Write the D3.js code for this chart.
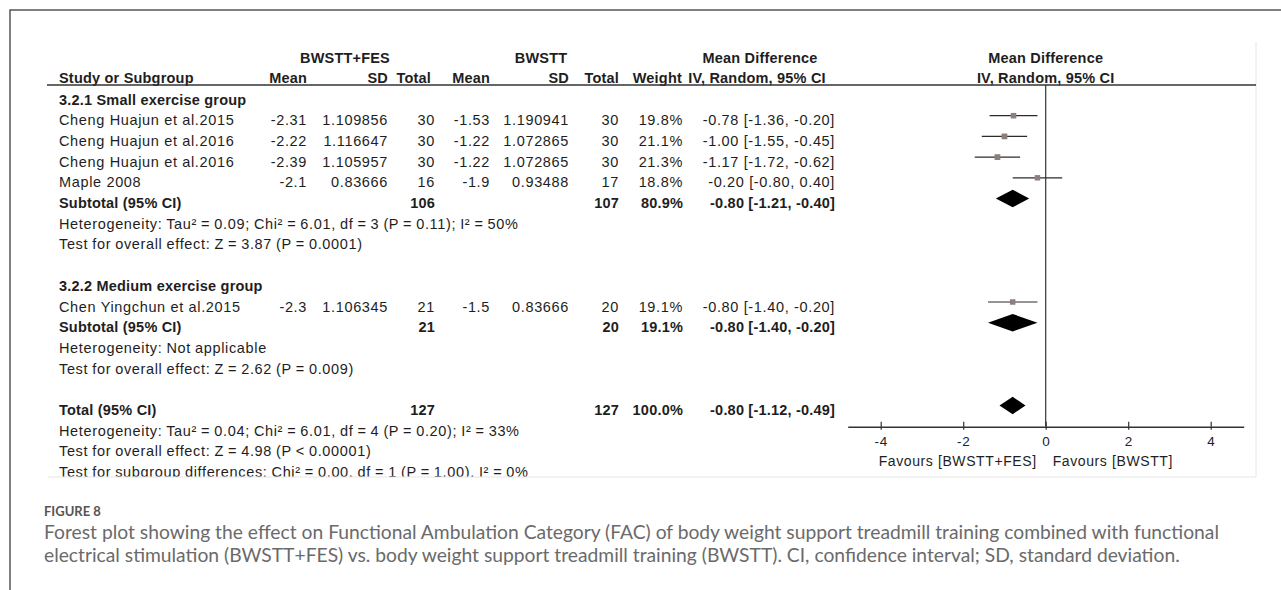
<!DOCTYPE html>
<html>
<head>
<meta charset="utf-8">
<script src="https://cdn.jsdelivr.net/npm/d3@7"></script>
<style>
  html, body { margin: 0; padding: 0; background: #fff; }
  svg { display: block; }
  .t { font-family: "Liberation Sans", Arial, sans-serif; font-size: 14.5px; fill: #1e1e1e; letter-spacing: 0.65px; }
  .b { font-weight: bold; letter-spacing: 0.2px; }
  .note { word-spacing: -0.6px; }
  .cap { font-family: Lato, "Open Sans", sans-serif; fill: #6a6a6a; }
</style>
</head>
<body>
<svg id="chart" width="1281" height="590"></svg>
<script>
// ---- study-level data ----
const studyNames = ["Cheng Huajun et al.2015", "Cheng Huajun et al.2016", "Cheng Huajun et al.2016", "Maple 2008", "Chen Yingchun et al.2015"];
const studyGroup = [0, 0, 0, 0, 1];
const fesMean = [-2.31, -2.22, -2.39, -2.1, -2.3];
const fesSD = [1.109856, 1.116647, 1.105957, 0.83666, 1.106345];
const fesN = [30, 30, 30, 16, 21];
const ctlMean = [-1.53, -1.22, -1.22, -1.9, -1.5];
const ctlSD = [1.190941, 1.072865, 1.072865, 0.93488, 0.83666];
const ctlN = [30, 30, 30, 17, 20];
const studyWeight = [19.8, 21.1, 21.3, 18.8, 19.1];
const studyMD = [-0.78, -1.00, -1.17, -0.20, -0.80];
const studyLo = [-1.36, -1.55, -1.72, -0.80, -1.40];
const studyHi = [-0.20, -0.45, -0.62, 0.40, -0.20];

// ---- pooled estimates (subgroup 1, subgroup 2, overall) ----
const pooledLabels = ["Subtotal (95% CI)", "Subtotal (95% CI)", "Total (95% CI)"];
const pooledFesN = [106, 21, 127];
const pooledCtlN = [107, 20, 127];
const pooledWeight = [80.9, 19.1, 100.0];
const pooledMD = [-0.80, -0.80, -0.80];
const pooledLo = [-1.21, -1.40, -1.12];
const pooledHi = [-0.40, -0.20, -0.49];

const groupTitles = ["3.2.1 Small exercise group", "3.2.2 Medium exercise group"];
const groupNotes = [
  ["Heterogeneity: Tau\u00b2 = 0.09; Chi\u00b2 = 6.01, df = 3 (P = 0.11); I\u00b2 = 50%",
   "Test for overall effect: Z = 3.87 (P = 0.0001)"],
  ["Heterogeneity: Not applicable",
   "Test for overall effect: Z = 2.62 (P = 0.009)"]
];
const totalNotes = [
  "Heterogeneity: Tau\u00b2 = 0.04; Chi\u00b2 = 6.01, df = 4 (P = 0.20); I\u00b2 = 33%",
  "Test for overall effect: Z = 4.98 (P < 0.00001)",
  "Test for subgroup differences: Chi\u00b2 = 0.00, df = 1 (P = 1.00), I\u00b2 = 0%"
];

const axisTicks = [-4, -2, 0, 2, 4];
const favoursLeft = "Favours [BWSTT+FES]";
const favoursRight = "Favours [BWSTT]";

const captionLabel = "FIGURE 8";
const captionLines = [
  "Forest plot showing the effect on Functional Ambulation Category (FAC) of body weight support treadmill training combined with functional",
  "electrical stimulation (BWSTT+FES) vs. body weight support treadmill training (BWSTT). CI, confidence interval; SD, standard deviation."
];

// ---- layout ----
const svg = d3.select("#chart");
const rowBase = 104.5, rowStep = 20.7;
const rowY = i => rowBase + rowStep * i;
const markOffset = -9.5;

const col = {
  study: 59, fesMean: 307, fesSD: 388, fesN: 435,
  ctlMean: 490, ctlSD: 569, ctlN: 619, weight: 683, ci: 835
};

const x = d3.scaleLinear().domain([-4.8, 4.8]).range([847.7, 1243.7]);
const axisY = 426.7;
const headerLineY = 85;

// page frame
svg.append("path").attr("d", "M10,590 V10 H1281").attr("fill", "none")
  .attr("stroke", "#555").attr("stroke-width", 1.5);

// faint edge of the plot panel
svg.append("path").attr("d", "M48,477 H1256 V42").attr("fill", "none")
  .attr("stroke", "#e6e6e6").attr("stroke-width", 1);

svg.append("defs").append("clipPath").attr("id", "panel")
  .append("rect").attr("x", 0).attr("y", 0).attr("width", 1281).attr("height", 476.5);

const g = svg.append("g").attr("clip-path", "url(#panel)");

function txt(xp, y, s, anchor, cls) {
  return g.append("text").attr("class", "t" + (cls ? " " + cls : ""))
    .attr("x", xp).attr("y", y).attr("text-anchor", anchor || "start").text(s);
}

// headers
const h1 = 62.5, h2 = 83;
txt(345, h1, "BWSTT+FES", "middle", "b");
txt(541, h1, "BWSTT", "middle", "b");
txt(760, h1, "Mean Difference", "middle", "b");
txt(x(0), h1, "Mean Difference", "middle", "b");
txt(col.study, h2, "Study or Subgroup", "start", "b");
txt(col.fesMean, h2, "Mean", "end", "b");
txt(col.fesSD, h2, "SD", "end", "b");
txt(col.fesN - 4, h2, "Total", "end", "b");
txt(col.ctlMean, h2, "Mean", "end", "b");
txt(col.ctlSD, h2, "SD", "end", "b");
txt(col.ctlN, h2, "Total", "end", "b");
txt(col.weight - 1, h2, "Weight", "end", "b");
txt(757, h2, "IV, Random, 95% CI", "middle", "b");
txt(x(0), h2, "IV, Random, 95% CI", "middle", "b");

g.append("line").attr("x1", 47).attr("x2", 1256).attr("y1", headerLineY).attr("y2", headerLineY)
  .attr("stroke", "#333").attr("stroke-width", 1.6);

// assemble the table rows
const rows = [];
let r = 0;
groupTitles.forEach((title, gi) => {
  rows.push({ type: "title", row: r++, text: title });
  studyNames.forEach((name, si) => {
    if (studyGroup[si] === gi) rows.push({ type: "study", row: r++, i: si });
  });
  rows.push({ type: "pooled", row: r++, i: gi });
  groupNotes[gi].forEach(n => rows.push({ type: "note", row: r++, text: n }));
  r++;
});
rows.push({ type: "pooled", row: r++, i: 2 });
totalNotes.forEach(n => rows.push({ type: "note", row: r++, text: n }));

const ciText = (m, l, h) => `${m.toFixed(2)} [${l.toFixed(2)}, ${h.toFixed(2)}]`;
const sq = d3.scaleSqrt().domain([0, 100]).range([0, 12.5]);

rows.forEach(d => {
  const y = rowY(d.row);
  const ym = y + markOffset;
  if (d.type === "title") {
    txt(col.study, y, d.text, "start", "b");
  } else if (d.type === "note") {
    txt(col.study, y, d.text, "start", "note");
  } else if (d.type === "study") {
    const i = d.i;
    txt(col.study, y, studyNames[i]);
    txt(col.fesMean, y, String(fesMean[i]), "end");
    txt(col.fesSD, y, String(fesSD[i]), "end");
    txt(col.fesN, y, String(fesN[i]), "end");
    txt(col.ctlMean, y, String(ctlMean[i]), "end");
    txt(col.ctlSD, y, String(ctlSD[i]), "end");
    txt(col.ctlN, y, String(ctlN[i]), "end");
    txt(col.weight, y, studyWeight[i].toFixed(1) + "%", "end");
    txt(col.ci, y, ciText(studyMD[i], studyLo[i], studyHi[i]), "end");
    g.append("line").attr("x1", x(studyLo[i])).attr("x2", x(studyHi[i]))
      .attr("y1", ym).attr("y2", ym).attr("stroke", "#2e2a2a").attr("stroke-width", 1.2);
    const s = sq(studyWeight[i]);
    g.append("rect").attr("x", x(studyMD[i]) - s / 2).attr("y", ym - s / 2)
      .attr("width", s).attr("height", s).attr("fill", "#8d7f7c");
  } else if (d.type === "pooled") {
    const i = d.i;
    txt(col.study, y, pooledLabels[i], "start", "b");
    txt(col.fesN, y, String(pooledFesN[i]), "end", "b");
    txt(col.ctlN, y, String(pooledCtlN[i]), "end", "b");
    txt(col.weight, y, pooledWeight[i].toFixed(1) + "%", "end", "b");
    txt(col.ci, y, ciText(pooledMD[i], pooledLo[i], pooledHi[i]), "end", "b");
    const hh = 8.7;
    const pts = [[x(pooledLo[i]), ym], [x(pooledMD[i]), ym - hh], [x(pooledHi[i]), ym], [x(pooledMD[i]), ym + hh]];
    g.append("path").attr("d", d3.line()(pts) + "Z").attr("fill", "#000");
  }
});

// line of no effect
g.append("line").attr("x1", x(0)).attr("x2", x(0)).attr("y1", headerLineY).attr("y2", axisY)
  .attr("stroke", "#333").attr("stroke-width", 1.2);

// x axis
const axis = d3.axisBottom(x).tickValues(axisTicks).tickSizeInner(3).tickSizeOuter(0)
  .tickFormat(d3.format("d"));
const ag = g.append("g").attr("transform", `translate(0,${axisY})`).call(axis);
ag.select(".domain").attr("stroke", "#333").attr("stroke-width", 1.4);
ag.selectAll(".tick line").attr("y1", -5).attr("stroke", "#333").attr("stroke-width", 1.2);
ag.selectAll(".tick text").attr("y", 0).attr("dy", "19px")
  .attr("font-family", "Liberation Sans, Arial, sans-serif").attr("font-size", 13.5)
  .attr("fill", "#222").style("letter-spacing", "0.6px")
  .text(d => d < 0 ? "-" + Math.abs(d) : String(d));

g.append("text").attr("class", "t").attr("x", x(0) - 9).attr("y", 466)
  .attr("text-anchor", "end").style("font-size", "14px").style("letter-spacing", "0.6px").text(favoursLeft);
g.append("text").attr("class", "t").attr("x", x(0) + 7).attr("y", 466)
  .attr("text-anchor", "start").style("font-size", "14px").style("letter-spacing", "0.6px").text(favoursRight);

// caption
svg.append("text").attr("class", "cap").attr("x", 44).attr("y", 515.5)
  .attr("font-size", 13).attr("font-weight", 700).style("fill", "#555")
  .text(captionLabel);

const capSize = 16;
const capNodes = captionLines.map((s, k) => svg.append("text").attr("class", "cap")
  .attr("x", 44).attr("y", 538.5 + 23 * k).attr("font-size", capSize).text(s));
const w0 = capNodes[0].node().getComputedTextLength();
const fit = capSize * (1175 / w0);
capNodes.forEach(n => n.attr("font-size", fit));
</script>
</body>
</html>
